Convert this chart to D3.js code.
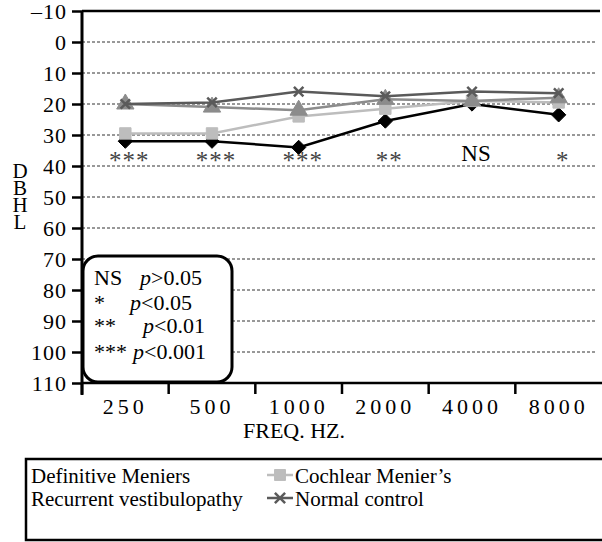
<!doctype html>
<html lang="en">
<head>
    <meta charset="utf-8">
    <title>Audiogram</title>
    <script src="https://d3js.org/d3.v7.min.js"></script>
    <style>
        body { margin: 0; background: #fff; }
    </style>
</head>
<body>
<script>
    // data
    const freqs = ["250", "500", "1000", "2000", "4000", "8000"]
    const definitive = [32, 32, 34, 25.5, 20, 23.5]
    const cochlear = [29.5, 29.5, 24, 21.5, 19, 19.5]
    const recurrent = [20, 21, 22, 18.5, 19, 18]
    const normal = [20, 19.5, 16, 17.5, 16, 16.5]
    const significance = ["***", "***", "***", "**", "NS", "*"]
    const yTicks = [-10, 0, 10, 20, 30, 40, 50, 60, 70, 80, 90, 100, 110]
    const sigKeys = ["NS", "*", "**", "***"]
    const sigTexts = [">0.05", "<0.05", "<0.01", "<0.001"]
    const seriesNames = ["Definitive Meniers", "Cochlear Menier\u2019s", "Recurrent vestibulopathy", "Normal control"]

    const width = 602
    const height = 542
    const serif = "'Liberation Serif'"

    const svg = d3.select("body").append("svg")
        .attr("width", width)
        .attr("height", height)

    const x = d3.scaleBand().domain(freqs).range([82, 602])
    const y = d3.scaleLinear().domain([-10, 110]).range([11, 383])
    const cx = f => x(f) + x.bandwidth() / 2

    // gridlines
    svg.append("g")
        .selectAll("line")
        .data(yTicks.filter(d => d > -10 && d < 110))
        .join("line")
        .attr("x1", 82).attr("x2", 597)
        .attr("y1", d => y(d)).attr("y2", d => y(d))
        .attr("stroke", "#333")
        .attr("stroke-width", 1)
        .attr("stroke-dasharray", "3,2")

    // top border
    svg.append("line")
        .attr("x1", 82).attr("x2", 600)
        .attr("y1", y(-10)).attr("y2", y(-10))
        .attr("stroke", "#000").attr("stroke-width", 2.5)

    // y axis
    const yAxis = svg.append("g")
        .attr("transform", "translate(82,0)")
        .call(d3.axisLeft(y).tickValues(yTicks).tickSize(10).tickPadding(5)
            .tickFormat(d => d < 0 ? "\u2013" + Math.abs(d) : d))
    yAxis.select(".domain").attr("stroke-width", 3).attr("d", "M0,11V395")
    yAxis.selectAll(".tick line").attr("stroke-width", 2.5)
    yAxis.selectAll("text")
        .style("font-family", serif)
        .attr("font-size", 22)
        .attr("letter-spacing", 1)
        .attr("fill", "#000")
        .attr("dy", "0.34em")

    // x axis
    const xAxis = svg.append("g")
        .attr("transform", `translate(0,${y(110)})`)
        .call(d3.axisBottom(x).tickSize(0).tickPadding(15))
    xAxis.select(".domain").attr("stroke-width", 2.5).attr("d", "M82,0H602")
    xAxis.selectAll("text")
        .style("font-family", serif)
        .attr("font-size", 22)
        .attr("letter-spacing", 4)
        .attr("fill", "#000")
    svg.append("g")
        .selectAll("line")
        .data(freqs)
        .join("line")
        .attr("x1", d => x(d)).attr("x2", d => x(d))
        .attr("y1", y(110)).attr("y2", y(110) + 11)
        .attr("stroke", "#000").attr("stroke-width", 2.5)

    svg.append("text")
        .attr("x", 294).attr("y", 438)
        .attr("text-anchor", "middle")
        .attr("font-size", 22)
        .style("font-family", serif)
        .text("FREQ. HZ.")

    // stacked y label, upright vertical text
    svg.append("text")
        .attr("x", 20).attr("y", 159)
        .attr("font-size", 21)
        .style("font-family", serif)
        .style("writing-mode", "vertical-rl")
        .style("text-orientation", "upright")
        .attr("letter-spacing", -7)
        .text("DBHL")

    // series
    const series = [
        { name: seriesNames[0], values: definitive, color: "#000", symbol: d3.symbolDiamond2 },
        { name: seriesNames[1], values: cochlear, color: "#bdbdbd", symbol: d3.symbolSquare },
        { name: seriesNames[2], values: recurrent, color: "#8c8c8c", symbol: d3.symbolTriangle },
        { name: seriesNames[3], values: normal, color: "#5a5a5a", symbol: d3.symbolX }
    ]

    const line = d3.line()
        .x((d, i) => cx(freqs[i]))
        .y(d => y(d))

    for (let s of series) {
        const g = svg.append("g")
        g.append("path")
            .attr("d", line(s.values))
            .attr("fill", "none")
            .attr("stroke", s.color)
            .attr("stroke-width", 2.5)
        g.selectAll("path.m")
            .data(s.values)
            .join("path")
            .attr("class", "m")
            .attr("transform", (d, i) => `translate(${cx(freqs[i])},${y(d)})`)
            .attr("d", d3.symbol().type(s.symbol).size(s.symbol === d3.symbolX ? 60 : 130))
            .attr("fill", s.symbol === d3.symbolX ? "none" : s.color)
            .attr("stroke", s.color)
            .attr("stroke-width", s.symbol === d3.symbolX ? 2.5 : 1)
    }

    // significance marks (asterisks sit low, near the baseline, in the original)
    svg.append("g")
        .selectAll("text")
        .data(significance)
        .join("text")
        .attr("x", (d, i) => cx(freqs[i]) + 4)
        .attr("y", d => d === "NS" ? y(38.5) : y(38.5) + 8)
        .attr("text-anchor", "middle")
        .style("font-family", serif)
        .attr("font-size", d => d === "NS" ? 23 : 25)
        .attr("letter-spacing", d => d === "NS" ? 0 : 1)
        .attr("fill", d => d === "NS" ? "#000" : "#444")
        .text(d => d)

    // p-value key box
    svg.append("rect")
        .attr("x", 83).attr("y", 256)
        .attr("width", 149).attr("height", 126)
        .attr("rx", 15)
        .attr("fill", "#fff")
        .attr("stroke", "#000")
        .attr("stroke-width", 3)
    const keyBase = [285, 310, 333, 359]
    const keyPx = [140, 130, 143, 133]
    const key = svg.append("g")
        .selectAll("g")
        .data(sigKeys)
        .join("g")
    key.append("text")
        .attr("x", 94)
        .attr("y", (d, i) => keyBase[i])
        .attr("font-size", 22)
        .style("font-family", serif)
        .text(d => d)
    key.append("text")
        .attr("x", (d, i) => keyPx[i])
        .attr("y", (d, i) => keyBase[i])
        .attr("font-size", 22)
        .style("font-family", serif)
        .call(t => t.append("tspan").attr("font-style", "italic").text("p"))
        .call(t => t.append("tspan").text((d, i) => sigTexts[i]))

    // series legend
    svg.append("rect")
        .attr("x", 26).attr("y", 459)
        .attr("width", 600).attr("height", 81)
        .attr("fill", "#fff")
        .attr("stroke", "#000")
        .attr("stroke-width", 2.5)

    const legendPos = [[31, 483], [295, 483], [31, 506], [295, 506]]
    const legend = svg.append("g")
        .selectAll("g")
        .data(series)
        .join("g")
        .attr("transform", (d, i) => `translate(${legendPos[i][0]},${legendPos[i][1]})`)
    legend.append("text")
        .attr("font-size", 21)
        .style("font-family", serif)
        .text(d => d.name)
    legend.filter((d, i) => i % 2 === 1).append("line")
        .attr("x1", -28).attr("x2", -2)
        .attr("y1", -8).attr("y2", -8)
        .attr("stroke", d => d.color)
        .attr("stroke-width", 2.5)
    legend.filter((d, i) => i % 2 === 1).append("path")
        .attr("transform", "translate(-15,-8)")
        .attr("d", d => d3.symbol().type(d.symbol).size(d.symbol === d3.symbolX ? 70 : 120)())
        .attr("fill", d => d.symbol === d3.symbolX ? "none" : d.color)
        .attr("stroke", d => d.color)
        .attr("stroke-width", d => d.symbol === d3.symbolX ? 2.5 : 1)
</script>
</body>
</html>
